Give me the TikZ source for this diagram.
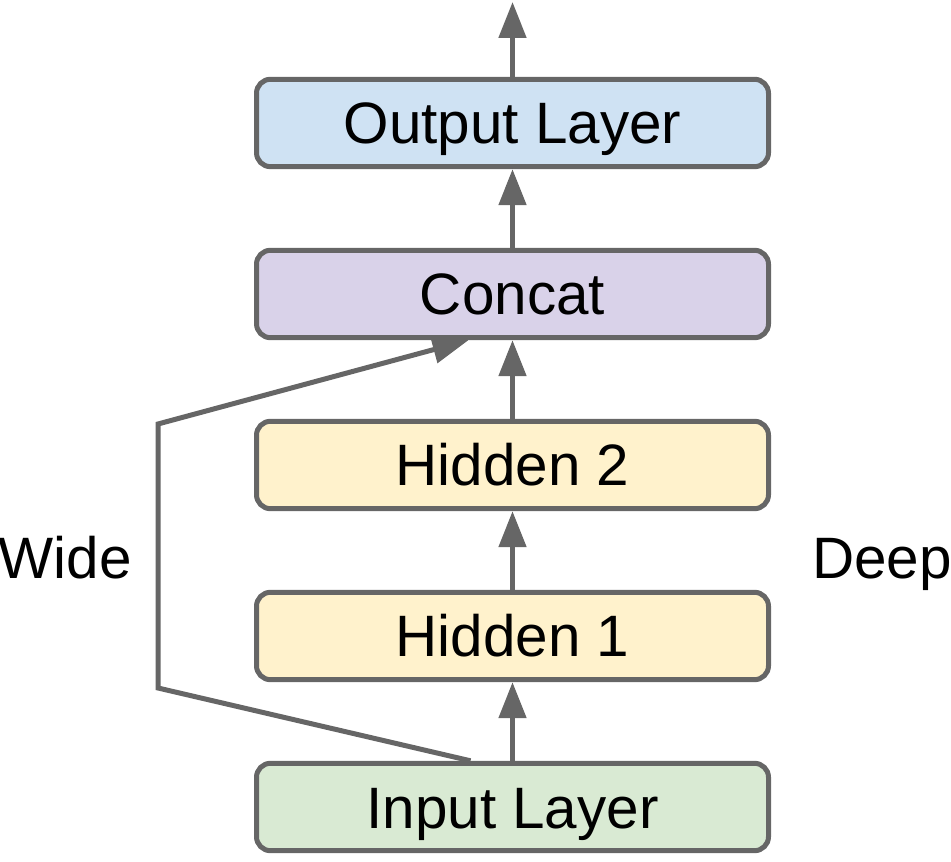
\documentclass[tikz,border=0pt]{standalone}
\usepackage{fontspec}
\setmainfont{Liberation Sans}
\usetikzlibrary{arrows.meta, positioning, calc}
\usepackage{xcolor}
\definecolor{edgegray}{HTML}{666666}
\definecolor{outblue}{HTML}{CFE2F3}
\definecolor{catpurple}{HTML}{D9D2E9}
\definecolor{hidyellow}{HTML}{FFF2CC}
\definecolor{ingreen}{HTML}{D9EAD3}

\begin{document}
\begin{tikzpicture}[x=0.5pt,y=0.5pt,
    every node/.style={font=\fontsize{29.2pt}{34pt}\selectfont,
        inner sep=0pt,text height=21pt,text depth=0pt},
    layer/.style={draw=edgegray,line width=2.5pt,rounded corners=7pt,
        minimum width=256pt,minimum height=43.7pt},
    flow/.style={draw=edgegray,line width=2.5pt,
        -{Triangle[length=18pt,width=13.5pt]}},
    node distance=39.3pt]
    \useasboundingbox (0,0) rectangle (951,861);

    \node[layer,fill=ingreen] (input) at (512.5,54) {Input Layer};
    \node[layer,fill=hidyellow,above=of input] (hidden1) {Hidden 1};
    \node[layer,fill=hidyellow,above=of hidden1] (hidden2) {Hidden 2};
    \node[layer,fill=catpurple,above=of hidden2] (concat) {Concat};
    \node[layer,fill=outblue,above=of concat] (output) {Output Layer};

    \node (wide) at (65,303) {Wide};
    \node (deep) at (882,303) {Deep};

    \coordinate (top) at (512.5,859);
    \coordinate (wideIn) at ($(input.north)+(-42,0)$);
    \coordinate (wideOut) at ($(concat.south)+(-44,0)$);

    % deep path
    \draw[flow] (input) -- (hidden1);
    \draw[flow] (hidden1) -- (hidden2);
    \draw[flow] (hidden2) -- (concat);
    \draw[flow] (concat) -- (output);
    \draw[flow] (output) -- (top);
    % wide path
    \draw[flow,line join=miter] (wideIn) -- (158,173) -- (158,437) -- (wideOut);

\end{tikzpicture}
\end{document}
